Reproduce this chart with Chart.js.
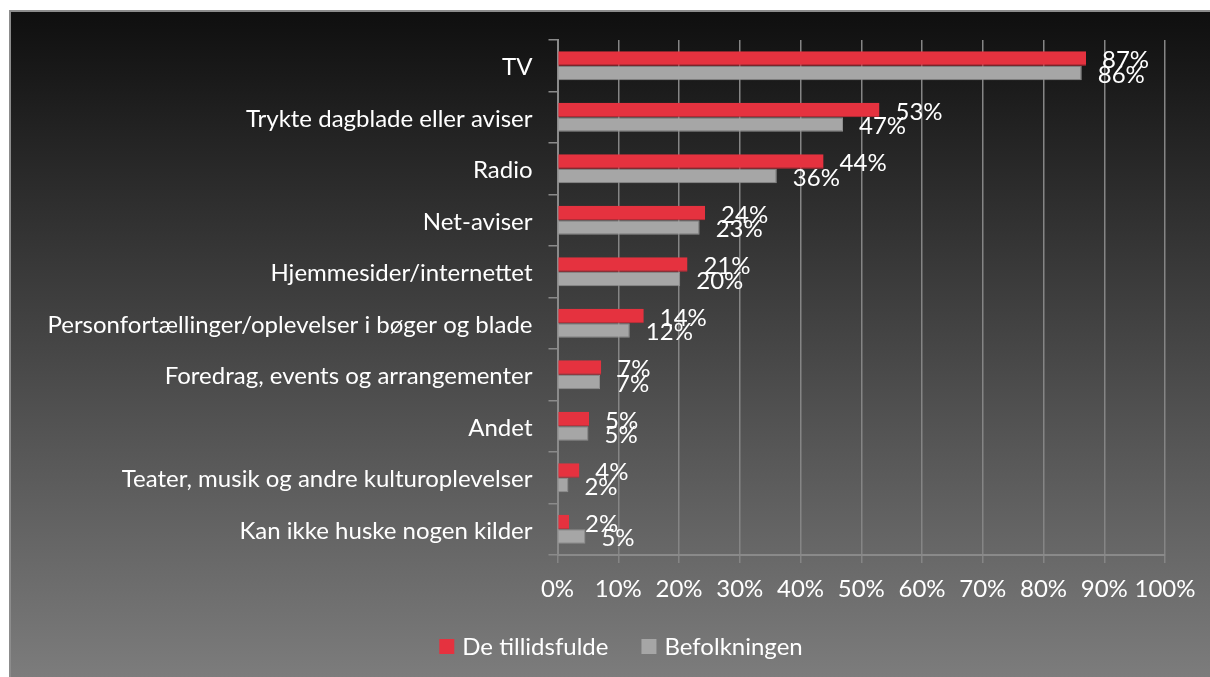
<!DOCTYPE html>
<html>
<head>
<meta charset="utf-8">
<script src="https://cdn.jsdelivr.net/npm/chart.js@4.4.1/dist/chart.umd.min.js"></script>
<style>
  html, body { margin: 0; padding: 0; background: #ffffff; width: 1210px; height: 677px; overflow: hidden; }
  #bg { position: absolute; left: 9px; top: 10px; width: 1201px; height: 667px;
        border-left: 2px solid #8c8c8c; border-top: 2px solid #8c8c8c; box-sizing: border-box;
        background: linear-gradient(to bottom, #0f0f0f 0%, #7c7c7c 100%); }
  #wrap { position: absolute; left: 0; top: 0; width: 1210px; height: 677px; }
</style>
</head>
<body>
<div id="bg"></div>
<div id="wrap"><canvas id="c" width="1210" height="677"></canvas></div>
<script>
const categories = [
  "TV",
  "Trykte dagblade eller aviser",
  "Radio",
  "Net-aviser",
  "Hjemmesider/internettet",
  "Personfortællinger/oplevelser i bøger og blade",
  "Foredrag, events og arrangementer",
  "Andet",
  "Teater, musik og andre kulturoplevelser",
  "Kan ikke huske nogen kilder"
];
const seriesNames = ["De tillidsfulde", "Befolkningen"];
const tillidsfulde = [87.0, 53.0, 43.8, 24.3, 21.4, 14.2, 7.2, 5.2, 3.6, 1.9];
const befolkningen = [86.3, 47.0, 36.1, 23.4, 20.2, 11.9, 7.0, 5.1, 1.8, 4.6];
const xTicks = [0, 10, 20, 30, 40, 50, 60, 70, 80, 90, 100];
const seriesColors = ['#e5323f', '#a6a6a6'];

const FONT = "Lato, 'Noto Sans', sans-serif";
const FS = 24;

const valueLabels = {
  id: 'valueLabels',
  afterDatasetsDraw(chart) {
    const ctx = chart.ctx;
    ctx.save();
    ctx.font = FS + "px " + FONT;
    ctx.fillStyle = "#ffffff";
    ctx.textAlign = "left";
    ctx.textBaseline = "middle";
    chart.data.datasets.forEach((ds, di) => {
      const meta = chart.getDatasetMeta(di);
      meta.data.forEach((bar, i) => {
        const txt = Math.round(ds.data[i]) + "%";
        ctx.fillText(txt, bar.x + 16, bar.y + 2);
      });
    });
    ctx.restore();
  }
};

const customLegend = {
  id: 'customLegend',
  afterDraw(chart) {
    const ctx = chart.ctx;
    ctx.save();
    ctx.font = FS + "px " + FONT;
    const box = 15, gap = 8, spacing = 33;
    const items = chart.data.datasets.map(d => ({ text: d.label, color: d.backgroundColor, w: ctx.measureText(d.label).width }));
    let total = 0;
    items.forEach((it, i) => { total += box + gap + it.w + (i < items.length - 1 ? spacing : 0); });
    let x = 621 - total / 2;
    const cy = 646.5;
    ctx.textAlign = 'left';
    ctx.textBaseline = 'middle';
    items.forEach(it => {
      ctx.fillStyle = it.color;
      ctx.fillRect(x, cy - box / 2, box, box);
      x += box + gap;
      ctx.fillStyle = '#ffffff';
      ctx.fillText(it.text, x, cy + 1);
      x += it.w + spacing;
    });
    ctx.restore();
  }
};

new Chart(document.getElementById('c'), {
  type: 'bar',
  data: {
    labels: categories,
    datasets: [
      { label: seriesNames[0], data: tillidsfulde, backgroundColor: seriesColors[0], borderColor: '#c52a36', borderWidth: {bottom:1, right:0, top:0, left:0}, barPercentage: 1.0, categoryPercentage: 0.565 },
      { label: seriesNames[1], data: befolkningen, backgroundColor: seriesColors[1], borderColor: '#8e8e8e', borderWidth: 1, barPercentage: 1.0, categoryPercentage: 0.565 }
    ]
  },
  options: {
    indexAxis: 'y',
    responsive: false,
    animation: false,
    devicePixelRatio: 1,
    layout: { padding: { top: 40, right: 45, left: 0, bottom: 62 } },
    scales: {
      y: {
        afterFit(scale) { scale.width = 557.5; },
        ticks: { color: '#ffffff', font: { family: FONT, size: FS }, padding: 16, labelOffset: 2 },
        grid: { drawOnChartArea: false, drawTicks: true, tickLength: 9, color: '#8a8a8a', lineWidth: 1.5, offset: true },
        border: { color: '#8a8a8a', width: 2 }
      },
      x: {
        min: 0, max: 100,
        afterBuildTicks(scale) { scale.ticks = xTicks.map(v => ({ value: v })); },
        afterFit(scale) { scale.height = 60; },
        ticks: { color: '#ffffff', font: { family: FONT, size: FS }, padding: 12, maxRotation: 0, minRotation: 0, autoSkip: false,
                 callback: (v) => v + '%' },
        grid: { color: '#858585', lineWidth: 1.5, tickLength: 8 },
        border: { color: '#8a8a8a', width: 2 }
      }
    },
    plugins: {
      legend: { display: false },
      tooltip: { enabled: false }
    }
  },
  plugins: [valueLabels, customLegend]
});
</script>
</body>
</html>
